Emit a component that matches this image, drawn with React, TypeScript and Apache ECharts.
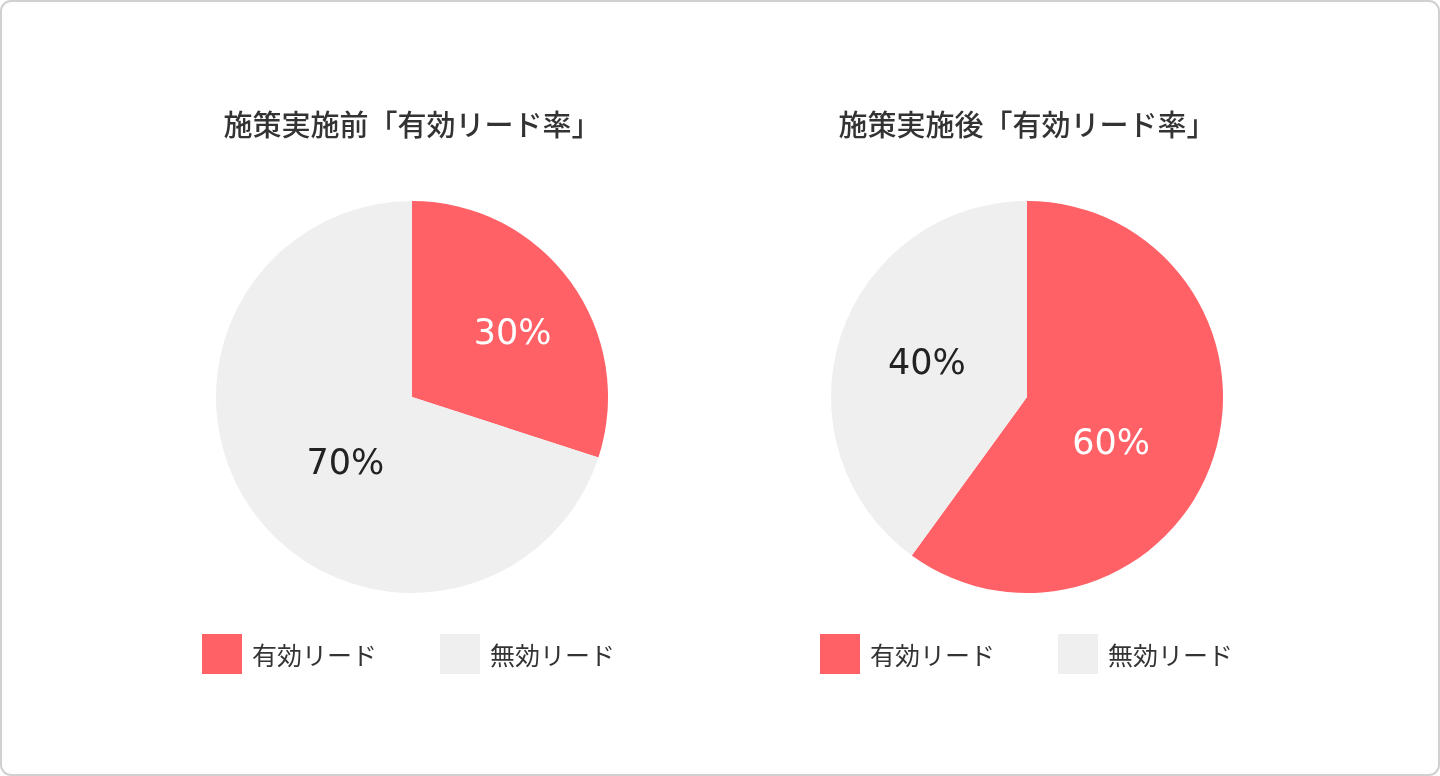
import React, { useEffect, useRef } from "react";
import * as echarts from "echarts";

const categories = ["有効リード", "無効リード"];
const beforeValues = [30, 70];
const afterValues = [60, 40];
const chartTitles = ["施策実施前「有効リード率」", "施策実施後「有効リード率」"];

const COLORS = ["#FF6166", "#EFEFEF"];
const LABEL_COLORS = ["#FFFFFF", "#222222"];
const CENTERS_X = [412, 1027];
const LABEL_OFFSETS = [
  [[19, -6], [15, 6]],
  [[-12, 14], [-4, -4]],
];

export default function App() {
  const ref = useRef<HTMLDivElement>(null);
  useEffect(() => {
    if (!ref.current) return;
    const chart = echarts.init(ref.current, null, { renderer: "svg" });
    const valuesList = [beforeValues, afterValues];
    const series = valuesList.map((vals, si) => ({
      type: "pie",
      center: [CENTERS_X[si], 397],
      radius: [0, 196],
      startAngle: 90,
      clockwise: true,
      silent: true,
      label: {
        show: true,
        position: "inside",
        formatter: "{c}%",
        fontFamily: "DejaVu Sans",
        fontSize: 35,
      },
      labelLine: { show: false },
      itemStyle: { borderWidth: 0 },
      data: categories.map((name, i) => ({
        name,
        value: vals[i],
        itemStyle: { color: COLORS[i] },
        label: { color: LABEL_COLORS[i], offset: LABEL_OFFSETS[si][i] },
      })),
    }));
    const legendLefts = [
      [202, 440],
      [820, 1058],
    ];
    const legends: any[] = [];
    legendLefts.forEach((row) => {
      row.forEach((left, i) => {
        legends.push({
          data: [categories[i]],
          left,
          top: 634,
          padding: 0,
          itemWidth: 40,
          itemHeight: 40,
          icon: "rect",
          selectedMode: false,
          textStyle: {
            fontFamily: "Noto Sans CJK JP",
            fontSize: 25,
            color: "#333333",
            padding: [0, 0, 5, 5],
          },
        });
      });
    });
    chart.setOption({
      animation: false,
      backgroundColor: "transparent",
      color: COLORS,
      graphic: [
        {
          type: "rect",
          z: -10,
          shape: { x: 1, y: 1, width: 1438, height: 774, r: 10 },
          style: { fill: "#FFFFFF", stroke: "#D0D0D0", lineWidth: 2 },
          silent: true,
        },
      ],
      title: chartTitles.map((t, i) => ({
        text: t,
        left: CENTERS_X[i],
        top: 108,
        padding: 0,
        textAlign: "center",
        textStyle: {
          fontFamily: "Noto Sans CJK JP",
          fontSize: 29,
          fontWeight: 500,
          color: "#333333",
        },
      })),
      legend: legends,
      series,
    });
    return () => chart.dispose();
  }, []);
  return (
    <div
      ref={ref}
      style={{ position: "fixed", left: 0, top: 0, width: 1440, height: 776 }}
    />
  );
}
